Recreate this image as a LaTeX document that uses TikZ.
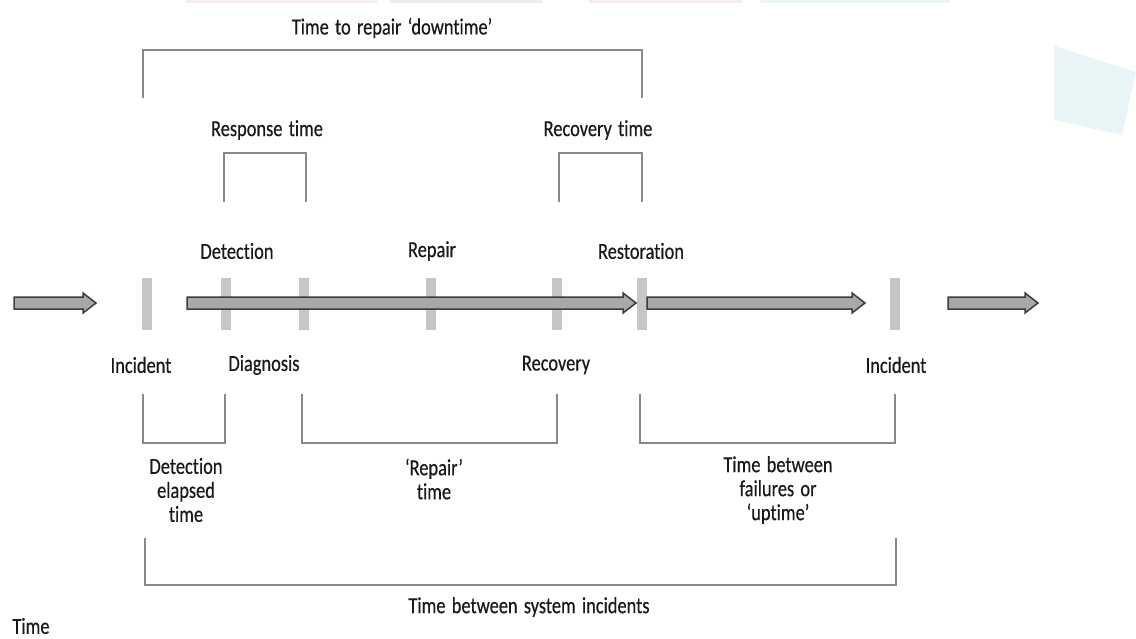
\documentclass[tikz,border=0pt]{standalone}
\usepackage{fontspec}
\setmainfont{Carlito}[FakeStretch=0.8,WordSpace=1.5,FakeBold=0.4,Ligatures={NoCommon}]
\definecolor{barfill}{HTML}{C6C6C6}
\definecolor{arrfill}{HTML}{A8A8A8}
\definecolor{arrline}{HTML}{3C3C3C}
\definecolor{brkline}{HTML}{888888}
\definecolor{bgpink}{HTML}{F5ECED}
\definecolor{bgblue}{HTML}{E9EEF2}
\definecolor{bgcyan}{HTML}{EAF5F8}
\tikzset{
  lbl/.style={inner sep=0pt, font=\fontsize{23}{24}\selectfont, align=center, text=black!90},
  tbar/.style={fill=barfill, draw=none, minimum width=10pt, minimum height=52pt, inner sep=0pt},
  brk/.style={draw=brkline, line width=2.8pt, miter limit=4},
  tlarrow/.style={fill=arrfill, draw=arrline, line width=1.5pt, line join=miter}
}
\newcommand\tlarr[3]{%
  \draw[tlarrow] (#1,#3-6) -- (#2-13,#3-6) -- (#2-13,#3-10) -- (#2,#3) -- (#2-13,#3+10) -- (#2-13,#3+6) -- (#1,#3+6) -- cycle;}
\begin{document}
\begin{tikzpicture}[x=1pt,y=-1pt]
\useasboundingbox (0,0) rectangle (1136,638);
\fill[white] (0,0) rectangle (1136,638);
% faint decorative background shapes
\fill[bgpink] (186,0) rectangle (377,3);
\fill[bgblue] (390,0) rectangle (543,3);
\fill[bgpink] (589,0) rectangle (742,3);
\fill[bgcyan] (760,0) rectangle (950,3);
\fill[bgcyan] (1054,46) -- (1136,72) -- (1122,135) -- (1054,120) -- cycle;

% top labels
\node[lbl] (ttr) at (392,28) {Time to repair ‘downtime’};
\node[lbl] (resp) at (267,130) {Response time};
\node[lbl] (recov) at (598,130) {Recovery time};
\node[lbl] (ldet) at (237,251) {Detection};
\node[lbl] (lrep) at (432,251) {Repair};
\node[lbl] (lres) at (641,251) {Restoration};

% bars
\node[tbar] (bInc1) at (147,304) {};
\node[tbar] (bDet) at (226,304) {};
\node[tbar] (bDia) at (304,304) {};
\node[tbar] (bRep) at (431,304) {};
\node[tbar] (bRec) at (557,304) {};
\node[tbar] (bRes) at (642,304) {};
\node[tbar] (bInc2) at (895,304) {};

% timeline arrows
\tlarr{14}{96}{303}
\tlarr{187}{636}{303}
\tlarr{647}{865}{303}
\tlarr{948}{1038}{303}

% lower labels
\node[lbl] (linc1) at (141,365) {Incident};
\node[lbl] (ldia) at (264,365) {Diagnosis};
\node[lbl] (lrec) at (556,365) {Recovery};
\node[lbl] (linc2) at (896,365) {Incident};

% bracket coordinates
\coordinate (topY) at (0,50);
\coordinate (midY) at (0,153);
\coordinate (lowY) at (0,443);
\coordinate (bigY) at (0,585);
\coordinate (dtL) at (143,98);  \coordinate (dtR) at (642,98);
\coordinate (rsL) at (224,202); \coordinate (rsR) at (306,202);
\coordinate (rcL) at (559,202); \coordinate (rcR) at (642,202);
\coordinate (deL) at (143,394); \coordinate (deR) at (225,394);
\coordinate (rpL) at (302,394); \coordinate (rpR) at (557,394);
\coordinate (upL) at (640,394); \coordinate (upR) at (895,394);
\coordinate (siL) at (145,538); \coordinate (siR) at (896,538);

\draw[brk] (dtL) -- (dtL |- topY) -- (dtR |- topY) -- (dtR);
\draw[brk] (rsL) -- (rsL |- midY) -- (rsR |- midY) -- (rsR);
\draw[brk] (rcL) -- (rcL |- midY) -- (rcR |- midY) -- (rcR);
\draw[brk] (deL) -- (deL |- lowY) -- (deR |- lowY) -- (deR);
\draw[brk] (rpL) -- (rpL |- lowY) -- (rpR |- lowY) -- (rpR);
\draw[brk] (upL) -- (upL |- lowY) -- (upR |- lowY) -- (upR);
\draw[brk] (siL) -- (siL |- bigY) -- (siR |- bigY) -- (siR);

% bottom labels
\node[lbl] (ldel) at (186,490) {Detection\\elapsed\\time};
\node[lbl] (lrpt) at (434,479) {‘Repair’\\time};
\node[lbl] (lup) at (778,490) {Time between\\failures or\\‘uptime’};
\node[lbl] (lsys) at (529,607) {Time between system incidents};
\node[lbl] (ltime) at (31,626) {Time};
\end{tikzpicture}
\end{document}
